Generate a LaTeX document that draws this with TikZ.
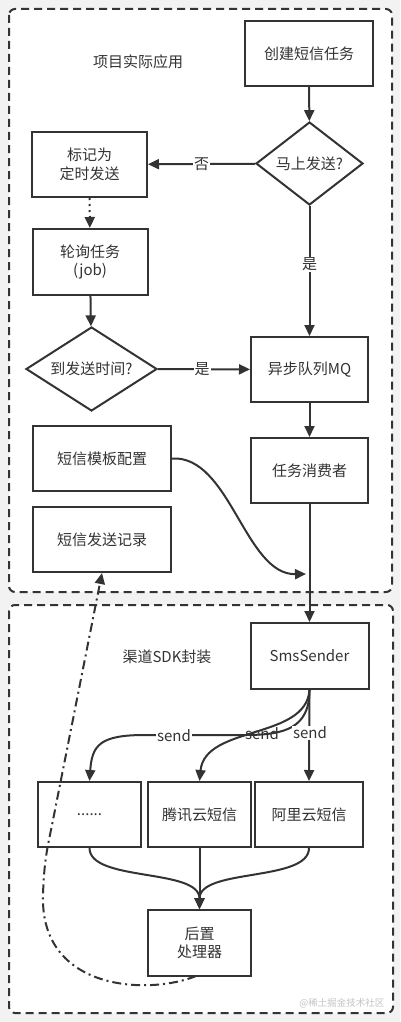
\documentclass[tikz,border=0pt]{standalone}
\usepackage{fontspec}
\setmainfont{Noto Sans CJK SC}
\usetikzlibrary{shapes.geometric,arrows.meta}
\definecolor{ink}{HTML}{333333}
\definecolor{bgc}{HTML}{F2F2F2}
\definecolor{wm}{HTML}{C4C4C4}
\newcommand\fsz{\fontsize{15}{18.5}\selectfont}
\begin{document}
\begin{tikzpicture}[x=1pt,y=-1pt,
  box/.style={draw=ink, line width=2pt, fill=white, inner sep=0pt, align=center, text=ink, font=\fsz},
  dia/.style={box, diamond, aspect=1.3},
  group/.style={draw=ink, line width=2pt, fill=white, rounded corners=6pt, dash pattern=on 8pt off 5pt},
  conn/.style={draw=ink, line width=2pt, -{Triangle[length=11pt,width=10pt]}},
  lab/.style={fill=white, inner sep=1pt, text=ink, font=\fsz},
  plain/.style={text=ink, font=\fsz}
]
\useasboundingbox (0,0) rectangle (400,1022);
\fill[bgc] (0,0) rectangle (400,1022);
\draw[group] (9,9) rectangle (392,592);
\draw[group] (9,605) rectangle (393,1013);

\node[plain] (t1) at (138,62) {项目实际应用};
\node[plain] (t2) at (167,657) {渠道SDK封装};

\node[box, minimum width=128pt, minimum height=65pt] (create) at (309,53.5) {创建短信任务};
\node[dia, minimum width=107pt, minimum height=83pt] (d1) at (309.5,163.5) {马上发送?};
\node[box, minimum width=115pt, minimum height=65pt] (mark) at (89.5,164.5) {标记为\\定时发送};
\node[box, minimum width=115pt, minimum height=66pt] (poll) at (90,262) {轮询任务\\(job)};
\node[dia, minimum width=131pt, minimum height=84pt] (d2) at (91.5,369) {到发送时间?};
\node[box, minimum width=117pt, minimum height=65pt] (mq) at (309.5,369.5) {异步队列MQ};
\node[box, minimum width=138pt, minimum height=65pt] (tpl) at (102,458.5) {短信模板配置};
\node[box, minimum width=117pt, minimum height=65pt] (cons) at (309.5,470.5) {任务消费者};
\node[box, minimum width=138pt, minimum height=65pt] (rec) at (102,539.5) {短信发送记录};
\node[box, minimum width=118pt, minimum height=66pt] (sms) at (309.5,656) {SmsSender};
\node[box, minimum width=103pt, minimum height=65pt] (dots) at (89.5,814.5) {......};
\node[box, minimum width=103pt, minimum height=65pt] (tx) at (199.5,814.5) {腾讯云短信};
\node[box, minimum width=108pt, minimum height=65pt] (ali) at (309,814.5) {阿里云短信};
\node[box, minimum width=103pt, minimum height=66pt] (post) at (199.5,943) {后置\\处理器};

\node[text=wm, font=\fontsize{9.5}{11}\selectfont, anchor=east] (wmk) at (388,1003) {@稀土掘金技术社区};

% top flow
\draw[conn] (create) -- (d1);
\draw[conn] (d1) -- node[lab] {否} (mark);
\draw[conn] (d1) -- node[lab, pos=0.45] {是} (mq);
\draw[conn, dash pattern=on 2pt off 4pt] (mark) -- (poll);
\draw[conn] (poll) -- (d2);
\draw[conn] (d2) -- node[lab, pos=0.48] {是} (mq);
\draw[conn] (mq) -- (cons);
\draw[conn] (cons.south) -- (sms.north);

\coordinate (tplend) at (306,574);
\draw[conn] (tpl.east) .. controls (230,455) and (245,575) .. (tplend);

% send edges
\draw[conn] (sms.south) .. controls (309.5,728) and (285,735) .. (245,735) -- (145,735) .. controls (100,735) and (92,745) .. (dots.north);
\draw[conn] (sms.south) .. controls (306,740) and (205,725) .. (tx.north);
\draw[conn] (sms.south) -- (ali.north);
\node[lab] (s1) at (174,736) {send};
\node[lab, fill=none] (s2) at (262,734) {send};
\node[lab] (s3) at (310,733) {send};

% merge into post
\draw[conn] (dots.south) .. controls (89.5,882) and (199.5,868) .. (post.north);
\draw[conn] (tx.south) -- (post.north);
\draw[conn] (ali.south) .. controls (309,882) and (199.5,868) .. (post.north);

% dash-dot feedback
\coordinate (fb1) at (196,976);
\coordinate (fb2) at (43,895);
\coordinate (fb3) at (52,825);
\draw[conn, dash pattern=on 9pt off 4pt on 2pt off 4pt] (fb1) .. controls (150,995) and (40,992) .. (fb2) .. controls (44,860) and (48,845) .. (fb3) -- (rec.south);
\end{tikzpicture}
\end{document}
